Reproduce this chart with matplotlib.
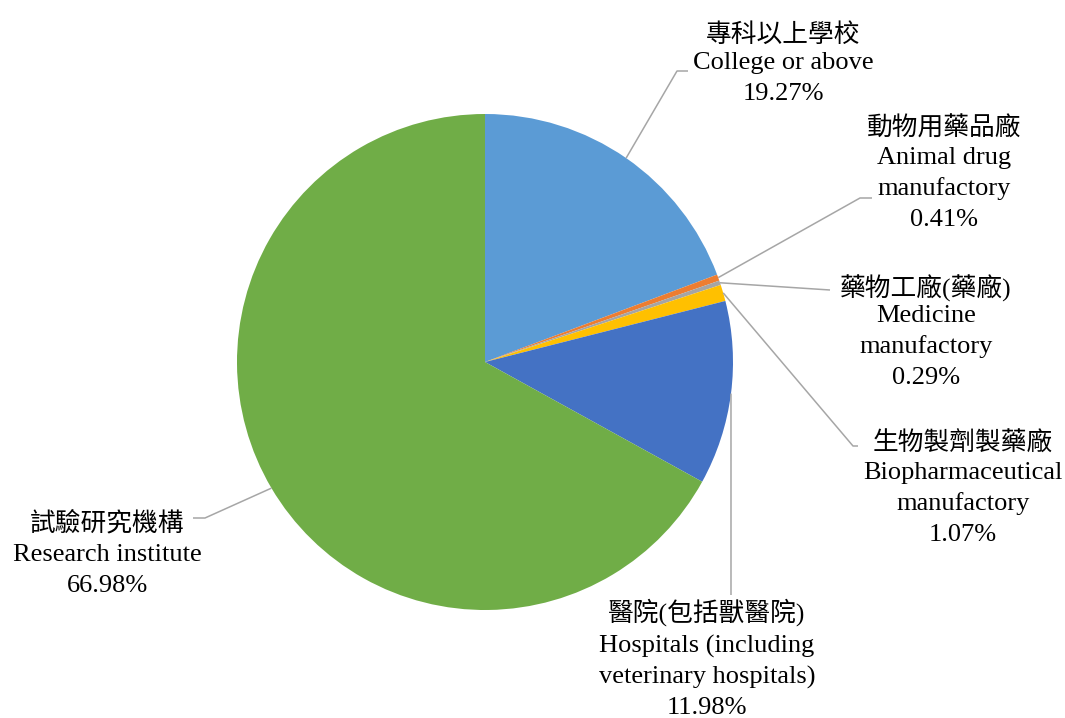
import numpy as np
import matplotlib
matplotlib.use('Agg')
import matplotlib.pyplot as plt

# data
names_zh = ['專科以上學校', '動物用藥品廠', '藥物工廠(藥廠)', '生物製劑製藥廠',
            '醫院(包括獸醫院)', '試驗研究機構']
names_en = [['College or above'], ['Animal drug', 'manufactory'], ['Medicine', 'manufactory'],
            ['Biopharmaceutical', 'manufactory'], ['Hospitals (including', 'veterinary hospitals)'],
            ['Research institute']]
shares = [19.27, 0.41, 0.29, 1.07, 11.98, 66.98]
colors = ['#5B9BD5', '#ED7D31', '#A5A5A5', '#FFC000', '#4472C4', '#70AD47']

# layout (pixel space, y measured from top)
W, H = 1065, 718
center = (485, 362)
radius = 248
label_x = [783, 944, 926, 963, 707, 107]
zh_y = [35, 129, 288, 444, 612, 523]
en_y = [63, 158, 316, 473, 646, 555]
step = 31
elbows = [[(677, 71), (688, 71)],
          [(860, 198), (872, 198)],
          [(830, 290)],
          [(853, 446), (858, 446)],
          [(731, 595)],
          [(205, 518), (193, 518)]]

serif = ['Liberation Serif', 'Noto Sans CJK TC']

fig = plt.figure(figsize=(W / 100, H / 100), dpi=100)
ax = fig.add_axes([0, 0, 1, 1])

cy = H - center[1]
ax.pie(shares, colors=colors, startangle=90, counterclock=False,
       center=(center[0], cy), radius=radius, frame=True,
       wedgeprops=dict(linewidth=0))
ax.set_xlim(0, W)
ax.set_ylim(0, H)
ax.set_aspect('equal')
ax.axis('off')

# leader lines from the middle of each wedge, then the labels
cum = np.cumsum([0] + shares[:-1])
for i, s in enumerate(shares):
    mid = cum[i] + s / 2
    ang = np.deg2rad(90 - mid * 3.6)
    px = center[0] + radius * np.cos(ang)
    py = cy + radius * np.sin(ang)
    xs = [px] + [e[0] for e in elbows[i]]
    ys = [py] + [H - e[1] for e in elbows[i]]
    ax.plot(xs, ys, color='#A6A6A6', lw=1.1, solid_capstyle='butt')

    lx = label_x[i]
    ax.text(lx, H - zh_y[i], names_zh[i], ha='center', va='center',
            fontsize=18.5, family=serif, color='black')
    lines = names_en[i] + [f'{s:.2f}%']
    for k, ln in enumerate(lines):
        ax.text(lx, H - (en_y[i] + k * step), ln, ha='center', va='center',
                fontsize=19, family='Liberation Serif', color='black')

fig.savefig('out.png', dpi=100)
